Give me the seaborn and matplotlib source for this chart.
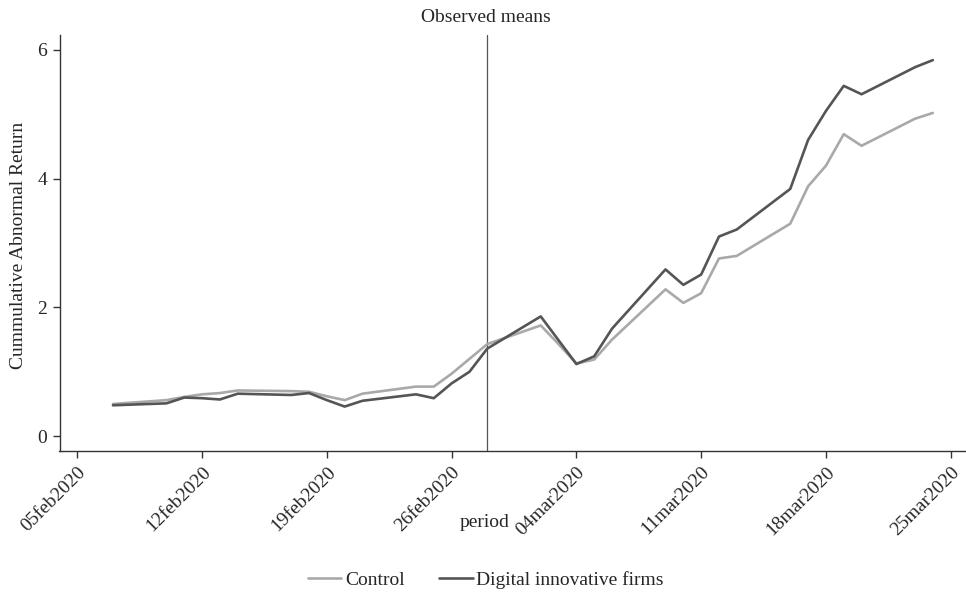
import matplotlib
matplotlib.use("Agg")
import matplotlib.pyplot as plt
import matplotlib.dates as mdates
from matplotlib.ticker import FuncFormatter
import pandas as pd
import seaborn as sns

# Trading days in the event window
dates = ["2020-02-07", "2020-02-10", "2020-02-11", "2020-02-12", "2020-02-13", "2020-02-14",
         "2020-02-17", "2020-02-18", "2020-02-19", "2020-02-20", "2020-02-21",
         "2020-02-24", "2020-02-25", "2020-02-26", "2020-02-27", "2020-02-28",
         "2020-03-02", "2020-03-03", "2020-03-04", "2020-03-05", "2020-03-06",
         "2020-03-09", "2020-03-10", "2020-03-11", "2020-03-12", "2020-03-13",
         "2020-03-16", "2020-03-17", "2020-03-18", "2020-03-19", "2020-03-20",
         "2020-03-23", "2020-03-24"]

control = [0.50, 0.56, 0.61, 0.65, 0.67, 0.71,
           0.70, 0.69, 0.62, 0.56, 0.66,
           0.77, 0.77, 0.97, 1.20, 1.43,
           1.72, 1.43, 1.13, 1.19, 1.50,
           2.28, 2.07, 2.22, 2.76, 2.80,
           3.30, 3.88, 4.20, 4.69, 4.51,
           4.93, 5.02]

digital = [0.48, 0.51, 0.60, 0.59, 0.57, 0.66,
           0.64, 0.67, 0.56, 0.46, 0.55,
           0.65, 0.59, 0.82, 1.00, 1.36,
           1.86, 1.49, 1.12, 1.24, 1.67,
           2.59, 2.35, 2.51, 3.10, 3.21,
           3.84, 4.60, 5.05, 5.44, 5.31,
           5.73, 5.84]

group_names = ["Control", "Digital innovative firms"]
event_date = "2020-02-28"
tick_dates = ["2020-02-05", "2020-02-12", "2020-02-19", "2020-02-26",
              "2020-03-04", "2020-03-11", "2020-03-18", "2020-03-25"]
y_ticks = [0, 2, 4, 6]

df = pd.DataFrame({
    "period": pd.to_datetime(dates * 2),
    "car": control + digital,
    "group": [group_names[0]] * len(dates) + [group_names[1]] * len(dates),
})

sns.set_style("ticks")
plt.rcParams["font.family"] = ["Liberation Serif", "DejaVu Serif"]
plt.rcParams["font.size"] = 14

fig = plt.figure(figsize=(9.66, 5.94), dpi=100)
ax = fig.add_axes([59.5 / 966, 143 / 594, 909 / 966, 416 / 594])

palette = {group_names[0]: "#a9a9a9", group_names[1]: "#555555"}
sns.lineplot(data=df, x="period", y="car", hue="group", palette=palette,
             linewidth=1.9, ax=ax, legend=False)

ax.axvline(pd.Timestamp(event_date), color="#555555", linewidth=0.9, zorder=0)

ax.set_xlim(pd.Timestamp("2020-02-04"), pd.Timestamp("2020-03-26"))
ax.set_ylim(-0.23, 6.23)
ax.set_yticks(y_ticks)
ax.set_xticks(pd.to_datetime(tick_dates))
ax.xaxis.set_major_formatter(
    FuncFormatter(lambda v, pos: mdates.num2date(v).strftime("%d%b%Y").lower()))

for lab in ax.get_xticklabels():
    lab.set_rotation(45)
    lab.set_ha("right")
    lab.set_rotation_mode("anchor")

ax.tick_params(axis="both", length=5, width=1, color="#333333", labelsize=14)
ax.tick_params(axis="x", pad=4)
ax.tick_params(axis="y", pad=4)
for s in ["top", "right"]:
    ax.spines[s].set_visible(False)
for s in ["left", "bottom"]:
    ax.spines[s].set_color("#333333")
    ax.spines[s].set_linewidth(1)

ax.set_xlabel("")
ax.set_ylabel("")
fig.text(0.019, 0.586, "Cummulative Abnormal Return", rotation=90,
         ha="center", va="center", fontsize=14)
fig.text(0.503, 0.971, "Observed means", ha="center", va="center", fontsize=14)
fig.text(0.502, 0.12, "period", ha="center", va="center", fontsize=14)

handles = [plt.Line2D([], [], color=palette[g], linewidth=1.9) for g in group_names]
fig.legend(handles, group_names, loc="center", bbox_to_anchor=(0.503, 0.024),
           ncol=2, frameon=False, fontsize=14, handlelength=1.7,
           handletextpad=0.2, columnspacing=1.8)

fig.savefig("out.png", dpi=100)
